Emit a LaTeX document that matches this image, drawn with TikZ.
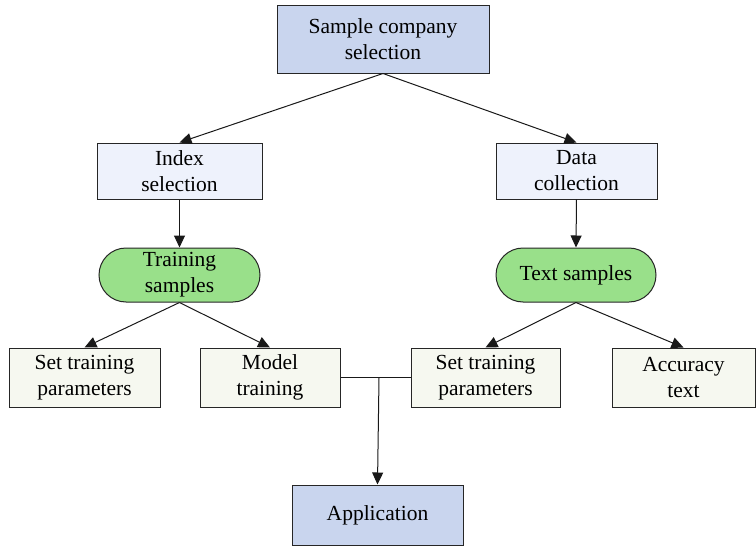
\documentclass[tikz,border=0pt]{standalone}
\usepackage{fontspec}
\setmainfont{Liberation Serif}
\usetikzlibrary{arrows.meta,shapes.misc}
\definecolor{topblue}{HTML}{C9D5EE}
\definecolor{paleblue}{HTML}{EEF2FC}
\definecolor{pillgreen}{HTML}{99E08A}
\definecolor{palegreen}{HTML}{F6F8F0}
\begin{document}
\begin{tikzpicture}[x=1pt,y=-1pt,
  every node/.style={font=\fontsize{21.5}{26}\selectfont, align=center, inner sep=0pt, draw=black!85, line width=1pt},
  bluebox/.style={rectangle, fill=topblue},
  lightbox/.style={rectangle, fill=paleblue},
  pill/.style={rounded rectangle, fill=pillgreen},
  leafbox/.style={rectangle, fill=palegreen},
  conn/.style={draw=black!90, line width=1pt, -{Triangle[length=12pt,width=11pt]}},
  plain/.style={draw=black!90, line width=1pt}]
\useasboundingbox (0,0) rectangle (756,546);
\node[bluebox, minimum width=212, minimum height=68] (top) at (383,39) {Sample company\\selection};
\node[lightbox, minimum width=165, minimum height=56] (idx) at (179.5,171) {Index\\selection};
\node[lightbox, minimum width=161, minimum height=56] (dat) at (576.5,171) {Data\\collection};
\node[pill, minimum width=161, minimum height=54] (ts) at (179.5,275) {Training\\samples};
\node[pill, minimum width=160, minimum height=54] (xs) at (576,275) {Text samples};
\node[leafbox, minimum width=151, minimum height=59] (stp1) at (84.5,377.5) {Set training\\parameters};
\node[leafbox, minimum width=140, minimum height=59] (mt) at (270,377.5) {Model\\training};
\node[leafbox, minimum width=149, minimum height=59] (stp2) at (485.5,377.5) {Set training\\parameters};
\node[leafbox, minimum width=143, minimum height=59] (acc) at (683.5,377.5) {Accuracy\\text};
\node[bluebox, minimum width=171, minimum height=60] (app) at (377.5,515) {Application};
\coordinate (j) at (379,378);
\draw[conn] (top.south) -- (idx.north);
\draw[conn] (top.south) -- (dat.north);
\draw[conn] (idx.south) -- (ts.north);
\draw[conn] (dat.south) -- (xs.north);
\draw[conn] (ts.south) -- (stp1.north);
\draw[conn] (ts.south) -- (mt.north);
\draw[conn] (xs.south) -- (stp2.north);
\draw[conn] (xs.south) -- (acc.north);
\draw[plain] (mt.east) -- (stp2.west);
\draw[conn] (j) -- (app.north);
\end{tikzpicture}
\end{document}
